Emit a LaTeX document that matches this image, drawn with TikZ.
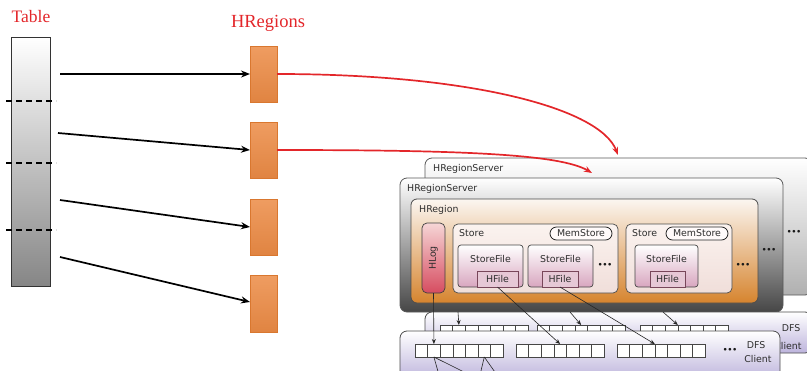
\documentclass[tikz,border=0pt]{standalone}
\usepackage{fontspec}
\setmainfont{Liberation Serif}
\newfontfamily\labfont{DejaVu Sans}
\usetikzlibrary{arrows.meta}

\definecolor{hred}{HTML}{E3262A}
\definecolor{horange}{HTML}{EC8B45}
\definecolor{horangeD}{HTML}{D9772F}
\definecolor{txtgray}{HTML}{2E2E2E}
\definecolor{lav}{HTML}{BDB4DC}
\definecolor{mauve}{HTML}{D8A6BF}

% box node spanning (x1,y1)--(x2,y2), coordinates in px
\newcommand\boxnode[6]{%
  \node[#1, minimum width={(#4)-(#2)}, minimum height={(#5)-(#3)}]
    (#6) at ({((#2)+(#4))/2},{((#3)+(#5))/2}) {};}

\tikzset{
  base/.style={inner sep=0pt, outer sep=0pt},
  tablebar/.style={base, draw=gray!40!black, line width=0.8pt, top color=white, bottom color=gray!95},
  cut/.style={line width=1.6pt, dash pattern=on 6pt off 4pt},
  regbox/.style={base, draw=horangeD, line width=0.5pt, top color=horange!85!white, bottom color=horange!95!black},
  blackarrow/.style={line width=1.7pt, -{Stealth[length=9pt,width=7pt]}},
  redarrow/.style={hred, line width=1.7pt, -{Stealth[length=8pt,width=6pt]}},
  server/.style={base, rounded corners=7pt, draw=gray!70!black, line width=0.8pt},
  region/.style={base, rounded corners=6pt, draw=gray!60!black, line width=0.8pt,
    top color={rgb,255:red,251;green,246;blue,241}, middle color={rgb,255:red,244;green,222;blue,200},
    bottom color={rgb,255:red,214;green,132;blue,46}},
  hlogbox/.style={base, rounded corners=5pt, draw=gray!50!black, line width=0.7pt,
    top color={rgb,255:red,246;green,214;blue,214}, bottom color={rgb,255:red,214;green,76;blue,96}},
  storebox/.style={base, rounded corners=5pt, draw=gray!60!black, line width=0.7pt,
    top color={rgb,255:red,251;green,243;blue,239}, bottom color={rgb,255:red,240;green,222;blue,218}},
  pill/.style={base, rounded corners=6.5pt, draw=gray!30!black, line width=0.8pt, fill=white!92!pink},
  sfbox/.style={base, rounded corners=3pt, draw=gray!55!black, line width=0.7pt, top color=white, bottom color=mauve},
  hfbox/.style={base, draw={rgb,255:red,120;green,70;blue,90}, line width=0.7pt, fill={rgb,255:red,230;green,200;blue,214}},
  dfsbox/.style={base, rounded corners=7pt, draw=gray!60!black, line width=0.8pt, top color=white, bottom color=lav},
  blk/.style={base, draw=gray!55!black, line width=0.6pt, fill=white, minimum width=12.6pt, minimum height=13pt},
  lab/.style={inner sep=0pt, font=\labfont\fontsize{9.4}{10}\selectfont, text=txtgray},
  dots/.style={inner sep=0pt, font=\labfont\bfseries\fontsize{7.5}{7.5}\selectfont, text=gray!20!black},
  thin/.style={line width=0.6pt, black!85},
  thinarrow/.style={line width=0.6pt, black!85, -{Stealth[length=5pt,width=4pt]}},
}

\begin{document}
\begin{tikzpicture}[x=1pt, y=-1pt]
\useasboundingbox (0,0) rectangle (807,370);

% ---- table and its split points ----
\node[hred, inner sep=0pt, font=\fontsize{17.5}{17.5}\selectfont] (tlabel) at (31,17) {Table};
\boxnode{tablebar}{11}{37}{50}{286}{tbl}
\draw[cut] (6,101) -- (56,101);
\draw[cut] (6,163) -- (56,163);
\draw[cut] (6,230) -- (56,230);

% ---- regions ----
\node[hred, inner sep=0pt, font=\fontsize{18.5}{18.5}\selectfont] (hlabel) at (268,23) {HRegions};
\boxnode{regbox}{250}{46}{277}{102}{hr1}
\boxnode{regbox}{250}{122}{277}{178}{hr2}
\boxnode{regbox}{250}{199}{277}{255}{hr3}
\boxnode{regbox}{250}{275}{277}{332}{hr4}

\coordinate (s1) at (60,74);
\coordinate (s2) at (58,133);
\coordinate (s3) at (60,200);
\coordinate (s4) at (60,257);
\draw[blackarrow] (s1) -- (hr1.west);
\draw[blackarrow] (s2) -- (hr2.west);
\draw[blackarrow] (s3) -- (hr3.west);
\draw[blackarrow] (s4) -- (250,302);

% ---- region servers ----
\boxnode{server, top color=white, bottom color=gray!62}{425}{158}{812}{295}{srvB}
\node[lab, anchor=west] (srvBl) at (433,169) {HRegionServer};
\boxnode{server, top color=white, middle color=gray!22, bottom color=gray!55!black}{400}{178}{783}{312}{srvA}
\node[lab, anchor=west] (srvAl) at (407,189) {HRegionServer};

\boxnode{region}{411}{199}{758}{303}{hreg}
\node[lab, anchor=west] (hregl) at (419,210) {HRegion};

\boxnode{hlogbox}{422}{223}{445}{293}{hlog}
\node[lab, rotate=90] (hlogl) at (hlog.center) {HLog};

% first store
\boxnode{storebox}{453}{224}{618}{293}{st1}
\node[lab, anchor=west] (st1l) at (459,233) {Store};
\boxnode{pill}{550}{227}{612}{240}{ms1}
\node[lab] (ms1l) at (ms1.center) {MemStore};
\boxnode{sfbox}{458}{245}{523}{287}{sf1}
\node[lab] (sf1l) at (490.5,259) {StoreFile};
\boxnode{hfbox}{477}{271}{518}{287}{hf1}
\node[lab] (hf1l) at (hf1.center) {HFile};
\boxnode{sfbox}{528}{245}{593}{287}{sf2}
\node[lab] (sf2l) at (560.5,259) {StoreFile};
\boxnode{hfbox}{542}{271}{578}{287}{hf2}
\node[lab] (hf2l) at (hf2.center) {HFile};
\node[dots] (d1) at (605,265) {•••};

% second store
\boxnode{storebox}{626}{224}{732}{293}{st2}
\node[lab, anchor=west] (st2l) at (632,233) {Store};
\boxnode{pill}{666}{227}{728}{240}{ms2}
\node[lab] (ms2l) at (ms2.center) {MemStore};
\boxnode{sfbox}{635}{245}{698}{287}{sf3}
\node[lab] (sf3l) at (666.5,259) {StoreFile};
\boxnode{hfbox}{650}{271}{685}{287}{hf3}
\node[lab] (hf3l) at (hf3.center) {HFile};
\node[dots] (d2) at (743,265) {•••};
\node[dots] (d3) at (769,250) {•••};
\node[dots] (d4) at (794,232) {•••};

% ---- DFS clients ----
\boxnode{dfsbox}{425}{312}{812}{353}{dfsB}
\node[lab] (dfsBl1) at (791,328) {DFS};
\node[lab] (dfsBl2) at (788,346) {Client};
\foreach \g/\x in {1/440,2/537,3/640}
  \foreach \i in {1,...,7}
    \node[blk] (bb\g-\i) at ({\x+12.6*(\i-0.5)},331.5) {};

\coordinate (e1) at (458,312);
\coordinate (e2) at (570,312);
\coordinate (e3) at (663,312);
\draw[thinarrow] (e1) -- (bb1-2.north);
\draw[thinarrow] (e2) -- (bb2-4.north);
\draw[thinarrow] (e3) -- (bb3-3.north east);

\boxnode{dfsbox}{400}{331}{780}{380}{dfsA}
\node[lab] (dfsAl1) at (756,345) {DFS};
\node[lab] (dfsAl2) at (758,359) {Client};
\foreach \g/\x in {1/415,2/516,3/617}
  \foreach \i in {1,...,7}
    \node[blk] (fb\g-\i) at ({\x+12.6*(\i-0.5)},350.5) {};
\node[dots] (d5) at (730,350) {•••};

% ---- writes into the file system ----
\draw[thinarrow] (hlog.south) -- (fb1-2.north);
\draw[thinarrow] (hf1.south) -- (fb2-4.north);
\draw[thinarrow] (hf2.south) -- (fb3-3.north east);
\coordinate (f1) at (439,375);
\coordinate (f2) at (470,375);
\coordinate (f3) at (480,375);
\coordinate (f4) at (497,375);
\draw[thin] (fb1-2.south) -- (f1);
\draw[thin] (fb1-2.south) -- (f2);
\draw[thin] (fb1-6.south) -- (f3);
\draw[thin] (fb1-6.south) -- (f4);

% ---- regions assigned to servers ----
\coordinate (r1) at (618,155);
\coordinate (r2) at (592,173);
\draw[redarrow] (hr1.east) .. controls (470,74) and (600,108) .. (r1);
\draw[redarrow] (hr2.east) .. controls (460,150) and (560,154) .. (r2);
\end{tikzpicture}
\end{document}
